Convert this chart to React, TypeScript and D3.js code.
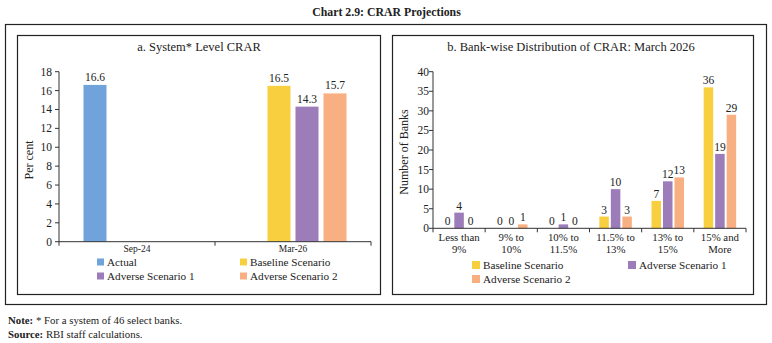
import React from "react";
import * as d3 from "d3";

const titleText = "Chart 2.9: CRAR Projections";

// Panel a
const aCategories = ["Sep-24", "Mar-26"];
const aSeries = ["Actual", "Baseline Scenario", "Adverse Scenario 1", "Adverse Scenario 2"];
const aActual = [16.6, null];
const aBaseline = [null, 16.5];
const aAdverse1 = [null, 14.3];
const aAdverse2 = [null, 15.7];
const aTicks = [0, 2, 4, 6, 8, 10, 12, 14, 16, 18];

// Panel b
const bCategories = [
  ["Less than", "9%"],
  ["9% to", "10%"],
  ["10% to", "11.5%"],
  ["11.5% to", "13%"],
  ["13% to", "15%"],
  ["15% and", "More"],
];
const bSeries = ["Baseline Scenario", "Adverse Scenario 1", "Adverse Scenario 2"];
const bBaseline = [0, 0, 0, 3, 7, 36];
const bAdverse1 = [4, 0, 1, 10, 12, 19];
const bAdverse2 = [0, 1, 0, 3, 13, 29];
const bTicks = [0, 5, 10, 15, 20, 25, 30, 35, 40];

const colors: Record<string, string> = {
  Actual: "#6FA3DA",
  "Baseline Scenario": "#F8CF3E",
  "Adverse Scenario 1": "#9C7DB9",
  "Adverse Scenario 2": "#F8B083",
};

const FONT = "'Liberation Serif', 'DejaVu Serif', serif";
const TXT = "#222";
const AX = "#333";

function PanelA() {
  const x0 = d3.scaleBand<string>().domain(aCategories).range([59, 371]).paddingInner(0).paddingOuter(0);
  const y = d3.scaleLinear().domain([0, 18]).range([241.7, 71.7]);
  const x1 = d3.scaleBand<string>().domain(aSeries).range([0, 112]).paddingInner(5 / 28).paddingOuter(2.5 / 28);
  const dataBySeries: Record<string, (number | null)[]> = {
    Actual: aActual,
    "Baseline Scenario": aBaseline,
    "Adverse Scenario 1": aAdverse1,
    "Adverse Scenario 2": aAdverse2,
  };
  const bw = x1.bandwidth();
  const tickXs = [59, ...aCategories.map((c) => (x0(c) as number) + x0.bandwidth())];
  return (
    <g>
      <text x={199} y={51} textAnchor="middle" fontSize={12.5} fill={TXT}>a. System* Level CRAR</text>
      {aTicks.map((t) => (
        <g key={t}>
          <line x1={55} x2={59} y1={y(t)} y2={y(t)} stroke={AX} />
          <text x={52} y={y(t) + 4} textAnchor="end" fontSize={11.5} fill={TXT}>{t}</text>
        </g>
      ))}
      <line x1={59} x2={59} y1={y(18)} y2={y(0)} stroke={AX} />
      <text transform={`translate(33,160) rotate(-90)`} textAnchor="middle" fontSize={12} fill={TXT}>Per cent</text>
      {aCategories.map((c, ci) => {
        const cx = (x0(c) as number) + x0.bandwidth() / 2;
        return (
          <g key={c}>
            {aSeries.map((s) => {
              const v = dataBySeries[s][ci];
              if (v == null) return null;
              const bx = cx - 56 + (x1(s) as number);
              return (
                <g key={s}>
                  <rect x={bx} y={y(v)} width={bw} height={y(0) - y(v)} fill={colors[s]} />
                  <text x={bx + bw / 2} y={y(v) - 4} textAnchor="middle" fontSize={11.5} fill={TXT}>{v.toFixed(1)}</text>
                </g>
              );
            })}
            <text x={cx} y={251.5} textAnchor="middle" fontSize={9.5} fill={TXT}>{c}</text>
          </g>
        );
      })}
      <line x1={59} x2={371} y1={y(0)} y2={y(0)} stroke={AX} />
      {tickXs.map((t, i) => (
        <line key={i} x1={t} x2={t} y1={y(0)} y2={y(0) + 4} stroke={AX} />
      ))}
      {aSeries.map((s, i) => {
        const col = i % 2;
        const row = Math.floor(i / 2);
        const lx = col === 0 ? 97 : 240;
        const ly = row === 0 ? 262 : 276;
        return (
          <g key={s}>
            <rect x={lx} y={ly - 3.5} width={7} height={7} fill={colors[s]} />
            <text x={lx + 10} y={ly + 4} fontSize={11.2} fill={TXT}>{s}</text>
          </g>
        );
      })}
    </g>
  );
}

function PanelB() {
  const keys = bCategories.map((c) => c.join(" "));
  const x0 = d3.scaleBand<string>().domain(keys).range([433, 746]).paddingInner(0).paddingOuter(0);
  const y = d3.scaleLinear().domain([0, 40]).range([228.3, 71.7]);
  const x1 = d3.scaleBand<string>().domain(bSeries).range([0, 34.5]).paddingInner(2 / 11.5).paddingOuter(1 / 11.5);
  const dataBySeries: Record<string, number[]> = {
    "Baseline Scenario": bBaseline,
    "Adverse Scenario 1": bAdverse1,
    "Adverse Scenario 2": bAdverse2,
  };
  const bw = x1.bandwidth();
  const tickXs = [433, ...keys.map((k) => (x0(k) as number) + x0.bandwidth())];
  return (
    <g>
      <text x={571} y={51} textAnchor="middle" fontSize={12.5} fill={TXT}>b. Bank-wise Distribution of CRAR: March 2026</text>
      {bTicks.map((t) => (
        <g key={t}>
          <line x1={429} x2={433} y1={y(t)} y2={y(t)} stroke={AX} />
          <text x={429} y={y(t) + 4} textAnchor="end" fontSize={11.5} fill={TXT}>{t}</text>
        </g>
      ))}
      <line x1={433} x2={433} y1={y(40)} y2={y(0)} stroke={AX} />
      <text transform={`translate(408,152) rotate(-90)`} textAnchor="middle" fontSize={12} fill={TXT}>Number of Banks</text>
      {bCategories.map((c, ci) => {
        const k = keys[ci];
        const cx = (x0(k) as number) + x0.bandwidth() / 2;
        return (
          <g key={k}>
            {bSeries.map((s) => {
              const v = dataBySeries[s][ci];
              const bx = cx - 17.25 + (x1(s) as number);
              return (
                <g key={s}>
                  <rect x={bx} y={y(v)} width={bw} height={y(0) - y(v)} fill={colors[s]} />
                  <text x={bx + bw / 2} y={y(v) - 3} textAnchor="middle" fontSize={11.5} fill={TXT}>{v}</text>
                </g>
              );
            })}
            <text x={cx} y={240.5} textAnchor="middle" fontSize={10.8} fill={TXT}>{c[0]}</text>
            <text x={cx} y={253} textAnchor="middle" fontSize={10.8} fill={TXT}>{c[1]}</text>
          </g>
        );
      })}
      <line x1={433} x2={746} y1={y(0)} y2={y(0)} stroke={AX} />
      {tickXs.map((t, i) => (
        <line key={i} x1={t} x2={t} y1={y(0)} y2={y(0) + 4} stroke={AX} />
      ))}
      {bSeries.map((s, i) => {
        const col = i % 2;
        const row = Math.floor(i / 2);
        const lx = col === 0 ? 472 : 628;
        const ly = row === 0 ? 265 : 279;
        return (
          <g key={s}>
            <rect x={lx} y={ly - 4} width={8} height={8} fill={colors[s]} />
            <text x={lx + 11} y={ly + 4} fontSize={11.2} fill={TXT}>{s}</text>
          </g>
        );
      })}
    </g>
  );
}

export default function App() {
  return (
    <svg
      width={772}
      height={343}
      style={{ position: "absolute", left: 0, top: 0, background: "#fff" }}
      fontFamily={FONT}
    >
      <rect x={0} y={0} width={772} height={343} fill="#fff" />
      <text x={386.5} y={16} textAnchor="middle" fontSize={11.8} fontWeight="bold" fill={TXT}>{titleText}</text>
      <rect x={5.5} y={24.5} width={761} height={280} fill="none" stroke="#222" strokeWidth={1.2} />
      <rect x={17.5} y={35.5} width={363} height={259} fill="none" stroke="#222" strokeWidth={1.2} />
      <rect x={392.5} y={35.5} width={361} height={259} fill="none" stroke="#222" strokeWidth={1.2} />
      <PanelA />
      <PanelB />
      <text x={8} y={324} fontSize={10.8} fill={TXT}>
        <tspan fontWeight="bold">Note:</tspan> * For a system of 46 select banks.
      </text>
      <text x={8} y={338} fontSize={10.8} fill={TXT}>
        <tspan fontWeight="bold">Source:</tspan> RBI staff calculations.
      </text>
    </svg>
  );
}
